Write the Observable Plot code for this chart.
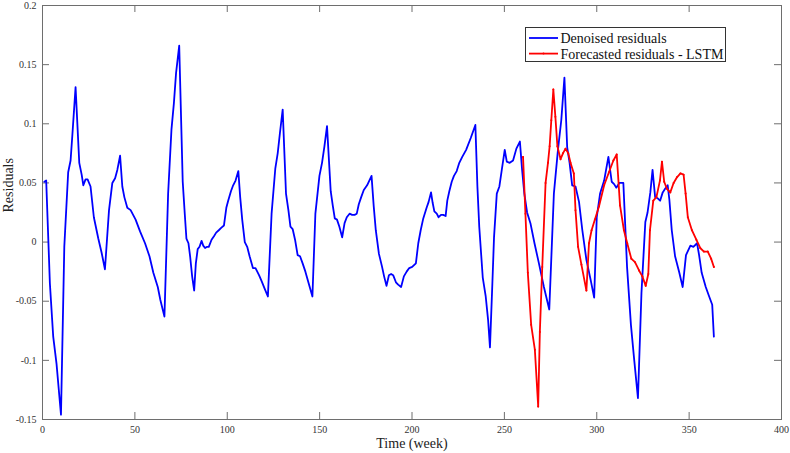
<!DOCTYPE html>
<html>
<head>
<meta charset="utf-8">
<script src="https://cdn.jsdelivr.net/npm/d3@7"></script>
<script src="https://cdn.jsdelivr.net/npm/@observablehq/plot@0.6"></script>
<style>
  html, body { margin: 0; padding: 0; background: #fff; }
  #wrap { position: relative; width: 790px; height: 453px; }
  #legend { position: absolute; left: 525px; top: 27px; }
</style>
</head>
<body>
<div id="wrap"></div>
<script>
// Tick values
const xTicks = [0, 50, 100, 150, 200, 250, 300, 350, 400];
const yTicks = [-0.15, -0.1, -0.05, 0, 0.05, 0.1, 0.15, 0.2];

// Series names
const seriesNames = ["Denoised residuals", "Forecasted residuals - LSTM"];

// Denoised residuals (blue)
const denoisedWeek = [1,2,4,5.8,7.6,10,11.8,13.9,15.2,16.1,17.9,19.9,21.2,22.1,23.3,24.4,26,27.8,30.2,32,33.8,36,37.8,39.3,40.5,42,43.2,44.3,45.9,47.7,50.4,52.8,55.5,57.9,60,62.4,63.8,66,68,69.8,71.1,72.3,74,75.9,77,77.9,79,79.9,81,82.1,83,84,85,86.1,87,88,89.1,90,91.5,92.8,94,95.4,96.7,98.2,99.5,100.5,102,103.2,104.5,106,107,108.1,109.5,110.8,112.1,113.9,115.3,117.2,118.6,120.4,122,124,126,127.3,128.5,130,131.8,133.1,134.2,135.4,136.7,138.1,139.4,140.8,142.3,144.1,146.1,147.7,149.9,151.3,152.6,154,156,157.1,158.2,159.4,160.7,162.2,163.5,164.7,166.2,167.6,168.9,170.1,171.2,172.5,173.9,175.7,178.1,179.3,180.4,182.1,183.8,184.9,186.2,187.5,188.7,189.8,191.3,192.5,194.1,195.6,197.1,198.5,200.1,202.1,203.4,204.7,206.1,207.9,209,210.3,211.2,212.1,213.4,214.4,215.7,216.9,218.2,219.1,220.2,221.5,222.7,224.2,225.6,227.2,229.3,231.8,234.3,235.4,236.4,238.3,239.9,241.2,242.2,243.5,244.4,245.9,247.3,248.6,250.2,251.3,252.9,254.7,256.5,258.4,259.6,260.8,262.3,264.1,266.3,268.7,271.4,274.3,276.8,279,280.8,282.5,284,285.3,286.7,288.5,290.4,292.2,294.4,296.7,298.6,300,301.8,304,306.3,308.1,309.4,310.6,312.2,314.4,316.4,318.5,320.3,322.3,324.2,326.3,327.5,329,330.2,331.6,333,334.3,335.7,337,338.4,339.3,340.6,342.4,344.7,346.5,348.3,350.7,352.3,354.3,355.4,356.8,359,360.6,362.5,363.4];
const denoisedValue = [0.051,0.052,-0.035,-0.080,-0.103,-0.146,-0.004,0.059,0.069,0.089,0.131,0.067,0.057,0.048,0.053,0.053,0.047,0.021,0.003,-0.009,-0.023,0.027,0.050,0.054,0.061,0.073,0.047,0.038,0.029,0.027,0.019,0.009,-0.001,-0.012,-0.026,-0.038,-0.049,-0.063,0.041,0.095,0.117,0.143,0.166,0.051,0.024,0.003,-0.001,-0.012,-0.029,-0.041,-0.018,-0.006,-0.004,0.001,-0.003,-0.005,-0.004,-0.004,0.002,0.005,0.008,0.010,0.012,0.014,0.029,0.035,0.043,0.048,0.052,0.060,0.038,0.019,0,-0.004,-0.012,-0.022,-0.022,-0.028,-0.033,-0.040,-0.046,0.024,0.062,0.075,0.092,0.112,0.041,0.027,0.013,0.011,0.002,-0.011,-0.012,-0.018,-0.025,-0.035,-0.046,0.024,0.056,0.067,0.081,0.098,0.043,0.031,0.020,0.019,0.013,0.004,0.016,0.021,0.024,0.023,0.023,0.024,0.032,0.038,0.044,0.048,0.056,0.030,0.010,-0.010,-0.021,-0.029,-0.037,-0.028,-0.027,-0.028,-0.034,-0.036,-0.038,-0.029,-0.025,-0.022,-0.021,-0.018,-0.001,0.010,0.020,0.029,0.034,0.042,0.033,0.026,0.024,0.021,0.023,0.023,0.022,0.035,0.043,0.051,0.056,0.060,0.067,0.072,0.078,0.088,0.099,0.047,0.013,-0.030,-0.046,-0.066,-0.089,-0.035,0.004,0.041,0.047,0.061,0.078,0.068,0.067,0.069,0.079,0.085,0.061,0.041,0.025,0.016,-0.001,-0.018,-0.038,-0.057,0.041,0.078,0.103,0.139,0.080,0.067,0.048,0.047,0.034,0.010,-0.015,-0.032,-0.047,0.021,0.041,0.052,0.072,0.051,0.049,0.046,0.050,0.050,-0.021,-0.070,-0.100,-0.132,-0.043,0.017,0.025,0.042,0.061,0.038,0.037,0.035,0.042,0.045,0.048,0.036,0.010,-0.012,-0.026,-0.038,-0.011,-0.003,-0.004,-0.001,-0.011,-0.026,-0.038,-0.045,-0.053,-0.080];

// Forecasted residuals - LSTM (red)
const forecastWeek = [260.1,261.4,262.7,264.5,266.5,268.3,269.2,270.5,272.3,273.6,274.5,275.4,276.5,277.6,278.7,280.4,281.7,283.1,284.6,285.8,287.6,288.5,289.9,291.7,294.4,295.8,297.2,299,301.2,304,306.6,309,310.8,312.6,314.7,316.5,318.7,320.7,322.9,324.7,326.5,327.9,328.8,330.6,332.3,334.2,335.3,336.5,338,339.8,341.6,343.5,345.3,347,348.1,349.3,351.5,353.9,356,358,360.1,361.9,363.4];
const forecastValue = [0.072,0.024,-0.026,-0.070,-0.091,-0.139,-0.076,-0.021,0.050,0.067,0.081,0.103,0.129,0.106,0.081,0.070,0.075,0.079,0.075,0.067,0.058,0.027,-0.004,-0.019,-0.041,-0.001,0.010,0.019,0.030,0.048,0.059,0.069,0.074,0.031,0.010,-0.001,-0.014,-0.017,-0.024,-0.029,-0.037,-0.027,0.010,0.035,0.038,0.052,0.068,0.051,0.045,0.042,0.050,0.055,0.058,0.057,0.041,0.021,0.010,0.002,-0.005,-0.008,-0.008,-0.014,-0.021];

const blue = denoisedWeek.map((w, i) => ({week: w, value: denoisedValue[i]}));
const red = forecastWeek.map((w, i) => ({week: w, value: forecastValue[i]}));

const W = 790, H = 453, mL = 42, mR = 9, mT = 5, mB = 34;
const innerW = W - mL - mR, innerH = H - mT - mB, tk = 7;
const axisGray = "#6e6e6e";
const serif = "'Liberation Serif', 'Times New Roman', serif";

const chart = Plot.plot({
  width: W, height: H,
  marginLeft: mL, marginRight: mR, marginTop: mT, marginBottom: mB,
  style: {fontFamily: serif, fontSize: "10px", color: "#333", background: "#fff"},
  x: {domain: [0, 400]},
  y: {domain: [-0.15, 0.2]},
  marks: [
    Plot.frame({stroke: axisGray}),
    Plot.ruleX(xTicks, {x: d => d, insetTop: innerH - tk, stroke: axisGray}),
    Plot.ruleX(xTicks, {x: d => d, insetBottom: innerH - tk, stroke: axisGray}),
    Plot.ruleY(yTicks, {y: d => d, insetRight: innerW - tk, stroke: axisGray}),
    Plot.ruleY(yTicks, {y: d => d, insetLeft: innerW - tk, stroke: axisGray}),
    Plot.axisX({ticks: xTicks, tickSize: 0, tickPadding: 6, tickFormat: d => String(d), label: null}),
    Plot.axisY({ticks: yTicks, tickSize: 0, tickPadding: 6, tickFormat: d => String(d), label: null}),
    Plot.line(blue, {x: "week", y: "value", stroke: "#0000ff", strokeWidth: 1.8}),
    Plot.line(red, {x: "week", y: "value", stroke: "#ff0000", strokeWidth: 1.8}),
    Plot.dot(red, {x: "week", y: "value", r: 1, fill: "#ff0000"}),
    Plot.text(["Time (week)"], {frameAnchor: "bottom", lineAnchor: "top", dy: 19, fontSize: 14, fill: "#222"}),
    Plot.text(["Residuals"], {frameAnchor: "left", rotate: -90, dx: -34, fontSize: 14, fill: "#222"})
  ]
});

const wrap = document.getElementById("wrap");
wrap.appendChild(chart);

// Legend overlay
const lw = 200, lh = 34;
const legend = d3.create("svg")
  .attr("id", "legend")
  .attr("width", lw + 2).attr("height", lh + 2)
  .style("font-family", serif);
legend.append("rect").attr("x", 0.5).attr("y", 0.5).attr("width", lw).attr("height", lh)
  .attr("fill", "#fff").attr("stroke", "#333").attr("stroke-width", 1);
const colors = ["#0000ff", "#ff0000"];
seriesNames.forEach((name, i) => {
  const cy = 11 + i * 15.6;
  legend.append("line").attr("x1", 4).attr("x2", 33).attr("y1", cy).attr("y2", cy)
    .attr("stroke", colors[i]).attr("stroke-width", 1.8);
  if (i === 1) legend.append("circle").attr("cx", 18.5).attr("cy", cy).attr("r", 1).attr("fill", colors[i]);
  legend.append("text").attr("x", 35.5).attr("y", cy).attr("dy", "0.35em")
    .attr("font-size", 14).attr("fill", "#111").text(name);
});
wrap.appendChild(legend.node());
</script>
</body>
</html>
